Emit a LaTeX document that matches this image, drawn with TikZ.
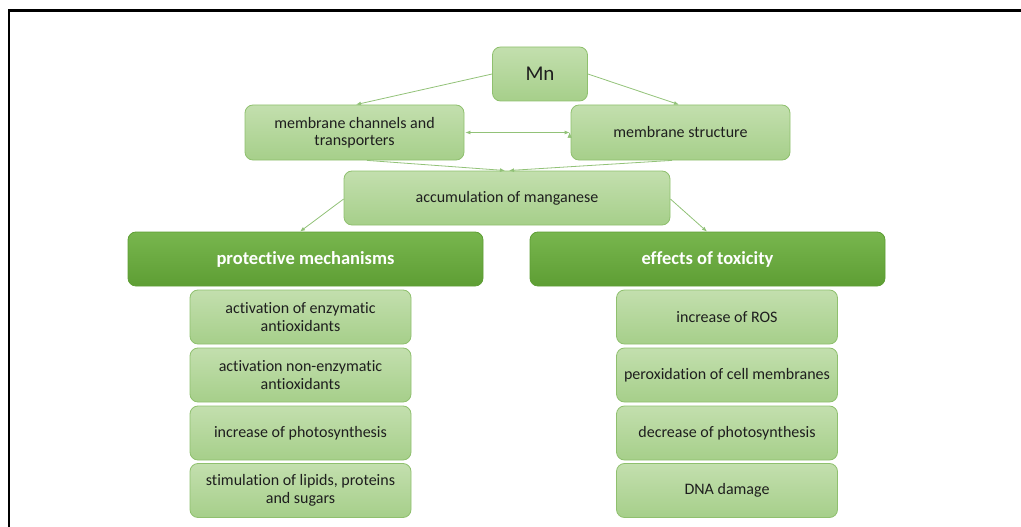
\documentclass[tikz,border=0pt]{standalone}
\usepackage{fontspec}
\setmainfont{Carlito}[Ligatures=NoCommon]
\usetikzlibrary{arrows.meta}
\definecolor{lgtop}{HTML}{C3DFAE}
\definecolor{lgbot}{HTML}{A6CF8A}
\definecolor{lgline}{HTML}{8FC06E}
\definecolor{dgtop}{HTML}{78B64E}
\definecolor{dgbot}{HTML}{5E9E34}
\definecolor{arr}{HTML}{92C278}
\definecolor{txt}{HTML}{1E1E1E}
\tikzset{
  lbox/.style={draw=lgline, line width=0.8pt, rounded corners=8pt, top color=lgtop, bottom color=lgbot,
    align=center, text=txt, font=\fontsize{16}{17.5}\selectfont, inner sep=0pt},
  hbox/.style={draw=dgbot, line width=0.8pt, rounded corners=8pt, top color=dgtop, bottom color=dgbot,
    align=center, text=white, font=\fontsize{18.5}{20}\selectfont\bfseries, inner sep=0pt,
    minimum width=355pt, minimum height=54pt},
  conn/.style={draw=arr, line width=0.8pt, -{Latex[length=5pt,width=4pt]}},
  conn2/.style={draw=arr, line width=0.8pt, {Latex[length=5pt,width=4pt]}-{Latex[length=5pt,width=4pt]}},
  sbox/.style={lbox, minimum width=221pt, minimum height=54pt},
}
\begin{document}
\begin{tikzpicture}[x=1pt,y=-1pt]
\useasboundingbox (0,0) rectangle (1021,527);
\draw[line width=2.2pt, black] (9,527) -- (9,10.5) -- (1021,10.5);
% top
\node[lbox, minimum width=95pt, minimum height=54pt, font=\fontsize{21}{24}\selectfont] (mn) at (540,74) {Mn};
\node[lbox, minimum width=219pt, minimum height=55pt] (mct) at (354.5,132.5) {membrane channels and\\transporters};
\node[lbox, minimum width=219pt, minimum height=55pt] (ms) at (680.5,132.5) {membrane structure};
\node[lbox, minimum width=326pt, minimum height=54pt] (acc) at (507,198) {accumulation of manganese};
\node[hbox] (pm) at (305.5,259) {protective mechanisms};
\node[hbox] (et) at (707.5,259) {effects of toxicity};
% left column
\node[sbox] (l1) at (300.5,317) {activation of enzymatic\\antioxidants};
\node[sbox] (l2) at (300.5,375) {activation non-enzymatic\\antioxidants};
\node[sbox] (l3) at (300.5,433) {increase of photosynthesis};
\node[sbox] (l4) at (300.5,490.5) {stimulation of lipids, proteins\\and sugars};
% right column
\node[sbox] (r1) at (727,317) {increase of ROS};
\node[sbox] (r2) at (727,375) {peroxidation of cell membranes};
\node[sbox] (r3) at (727,433) {decrease of photosynthesis};
\node[sbox] (r4) at (727,490.5) {DNA damage};
% connectors
\coordinate (accl) at (505,170.5);
\coordinate (accr) at (509,170.5);
\draw[conn] (mn.west |- 0,74) -- (mct.north -| 356,0);
\draw[conn] (mn.east |- 0,74) -- (ms.north -| 679,0);
\draw[conn2] (mct.east) ++(1,0) coordinate (d1) (ms.west) ++(-1,0) coordinate (d2);
\draw[conn2] (d1) -- (d2);
\draw[conn] (mct.south -| 367,0) -- (accl);
\draw[conn] (ms.south -| 672,0) -- (accr);
\draw[conn] (acc.west |- 0,199) -- (pm.north -| 300,0);
\draw[conn] (acc.east |- 0,199) -- (et.north -| 707,0);
\end{tikzpicture}
\end{document}
